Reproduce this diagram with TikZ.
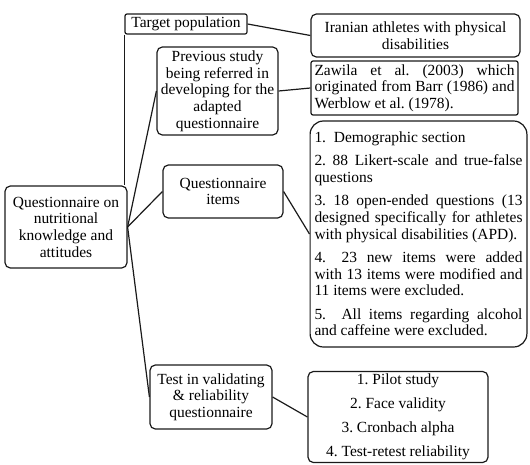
\documentclass[tikz,border=0pt]{standalone}
\usepackage{fontspec}
\setmainfont{Liberation Serif}
\usetikzlibrary{positioning}
\definecolor{Ink}{HTML}{1A1A1A}
\frenchspacing

\begin{document}
\begin{tikzpicture}[
      x=0.75pt,y=-0.75pt,
      box/.style={draw=Ink,line width=0.9pt,rounded corners=4pt,align=center,
        inner sep=2pt,font=\fontsize{11.6}{12.5}\selectfont},
      tag/.style={box,rounded corners=1.5pt},
      note/.style={box,align=justify,inner xsep=3pt},
      link/.style={line width=0.9pt,color=Ink}
    ]
      \path[use as bounding box] (0,0) rectangle (530,464);
      \node[box,minimum width=91.5pt,minimum height=61.5pt] (quest) at (66,227)
        {Questionnaire on\\nutritional\\knowledge and\\attitudes};
      \node[tag,minimum width=91.5pt,minimum height=15pt] (target) at (186,24)
        {Target population};
      \node[box,minimum width=156.75pt,minimum height=32.25pt] (athletes) at (415.5,35.5)
        {Iranian athletes with physical\\disabilities};
      \node[box,minimum width=90.75pt,minimum height=66pt] (previous) at (217.5,91)
        {Previous study\\being referred in\\developing for the\\adapted\\questionnaire};
      \node[note,tag,align=justify,text width=150pt,minimum height=40.5pt,inner xsep=2.6pt] (source) at (414.5,88)
        {Zawila et al. (2003) which\linebreak originated from Barr (1986) and\linebreak Werblow et al. (1978).};
      \node[box,minimum width=90pt,minimum height=39.75pt] (items) at (223,191.5)
        {Questionnaire\\items};
      \node[note,rounded corners=10pt,text width=156pt,minimum height=169.5pt,inner xsep=3.3pt] (list) at (418.5,234)
        {1.\ \ Demographic section\par\vspace{5pt}
         2. 88 Likert-scale and true-false\linebreak questions\par\vspace{5pt}
         3. 18 open-ended questions (13\linebreak designed specifically for athletes\linebreak with physical disabilities (APD).\par\vspace{5pt}
         4.\quad 23 new items were added\linebreak with 13 items were modified and\linebreak 11 items were excluded.\par\vspace{5pt}
         5.\quad All items regarding alcohol\linebreak and caffeine were excluded.};
      \node[box,minimum width=91.5pt,minimum height=48pt] (test) at (211,397)
        {Test in validating\\\& reliability\\questionnaire};
      \node[box,minimum width=135pt,minimum height=67.5pt] (pilot) at (398,417)
        {1. Pilot study\\[5.4pt]2. Face validity\\[5.4pt]3. Cronbach alpha\\[5.4pt]4. Test-retest reliability};
      % connectors
      \draw[link] (target.south west) -- (target.south west |- quest.north);
      \draw[link] (target.east) -- (athletes.west);
      \draw[link] (quest.east) -- (previous.west);
      \draw[link] (previous.east) -- (source.west);
      \draw[link] (quest.east) -- (items.west);
      \draw[link] (items.east) -- (list.west);
      \draw[link] (quest.east) -- (test.west);
      \draw[link] (test.east) -- (pilot.west);
    \end{tikzpicture}
\end{document}
